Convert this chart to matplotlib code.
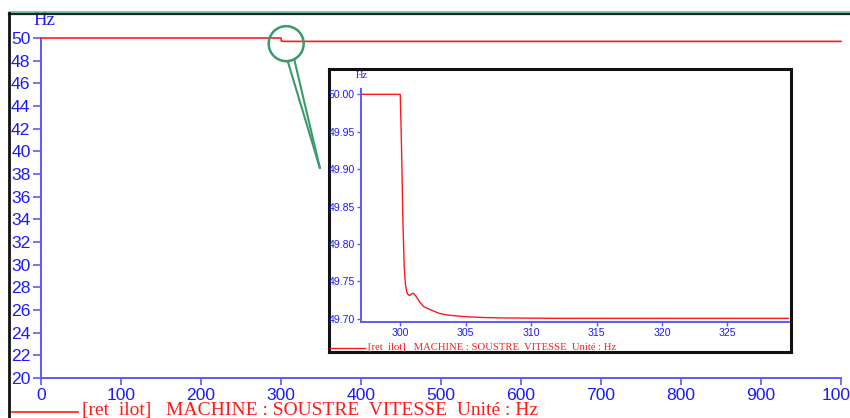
import matplotlib
matplotlib.use("Agg")
import matplotlib.pyplot as plt
from matplotlib.lines import Line2D
from matplotlib.patches import Circle
from matplotlib.ticker import FormatStrFormatter

# Machine speed (Hz) versus time (s) after islanding at t = 300 s
time_s = [0, 300.0, 300.1, 300.2, 300.3, 300.4, 300.5, 300.56, 300.7, 300.85,
          301.0, 301.2, 301.5, 301.8, 302.3, 303.0, 303.6, 304.4, 305.2,
          306.5, 308.0, 312.0, 1000]
freq_hz = [50.0, 50.0, 49.926, 49.832, 49.770, 49.745, 49.736, 49.733, 49.731,
           49.733, 49.734, 49.730, 49.722, 49.716, 49.712, 49.707, 49.705,
           49.7035, 49.7025, 49.7015, 49.701, 49.7005, 49.7005]

main_xticks = [0, 100, 200, 300, 400, 500, 600, 700, 800, 900, 1000]
main_yticks = list(range(20, 51, 2))
zoom_xticks = [300, 305, 310, 315, 320, 325]
zoom_yticks = [49.70, 49.75, 49.80, 49.85, 49.90, 49.95, 50.00]

legend_text = "[ret  ilot]   MACHINE : SOUSTRE  VITESSE  Unité : Hz"
unit_text = "Hz"

RED = "#ff1a1a"
BLUE_TXT = "#1a1aff"
BLUE_AX = "#5a5aff"
GREEN = "#3a9a6a"

W, H = 850, 418
fig = plt.figure(figsize=(W / 100, H / 100), dpi=100)
fig.patch.set_facecolor("white")


def px_rect(x0, y0, x1, y1):
    return [x0 / W, 1 - y1 / H, (x1 - x0) / W, (y1 - y0) / H]


def style_axes(ax, fs, ticklen):
    for s in ("top", "right"):
        ax.spines[s].set_visible(False)
    for s in ("left", "bottom"):
        ax.spines[s].set_color(BLUE_AX)
        ax.spines[s].set_linewidth(1.4)
    ax.tick_params(colors=BLUE_AX, labelcolor=BLUE_TXT, labelsize=fs,
                   length=ticklen, width=1.2, pad=1.5)
    for lab in ax.get_xticklabels() + ax.get_yticklabels():
        lab.set_family("Liberation Sans")


# Main axes
ax = fig.add_axes(px_rect(41, 38, 841, 378))
ax.plot(time_s, freq_hz, color=RED, lw=1.2, clip_on=False, zorder=5)
ax.set_xlim(0, 1000)
ax.set_ylim(20, 50)
ax.set_xticks(main_xticks)
ax.set_yticks(main_yticks)
style_axes(ax, 12.6, 6)
ax.tick_params(axis="x", length=5, pad=2)
ax.set_facecolor("none")
fig.text(33 / W, 1 - 20.5 / H, unit_text, color=BLUE_TXT, fontsize=13.5,
         family="Liberation Serif", va="center", ha="left")

# Overlay in pixel coordinates for frames and callout
ov = fig.add_axes([0, 0, 1, 1], zorder=10)
ov.set_xlim(0, W)
ov.set_ylim(H, 0)
ov.axis("off")
ov.patch.set_alpha(0)

# Outer frame
ov.plot([9, 850], [12.3, 12.3], color="#5fc59a", lw=1.2)
ov.plot([9, 850], [14, 14], color="#222222", lw=1.6)
ov.plot([9, 9], [13, 418], color="#111111", lw=2.0)

# Main legend
fig.add_artist(Line2D([12 / W, 78 / W], [1 - 411.5 / H] * 2, color=RED, lw=1.2))
fig.text(82 / W, 1 - 411 / H, legend_text, color=RED, fontsize=14,
         family="Liberation Serif", va="center", ha="left")

# Magnifier callout anchored on the step at t = 300 s
fig.canvas.draw()
cx, cy = ax.transData.transform((306.5, 49.5))
cy = H - cy
ov.add_patch(Circle((cx, cy), 17.5, fill=False, ec=GREEN, lw=1.8))
tip = ax.transData.transform((348.5, 38.55))
tip = (tip[0], H - tip[1])
ov.plot([cx + 1.5, tip[0]], [cy + 17.4, tip[1]], color=GREEN, lw=1.5)
ov.plot([cx + 8.0, tip[0]], [cy + 15.5, tip[1]], color=GREEN, lw=1.5)

# Inset frame
ins_bg = fig.add_axes(px_rect(329, 69, 791, 352), zorder=11)
ins_bg.set_xticks([])
ins_bg.set_yticks([])
for s in ins_bg.spines.values():
    s.set_color("#111111")
    s.set_linewidth(2.2)
ins_bg.patch.set_facecolor("white")

# Inset axes
ins = fig.add_axes(px_rect(361, 89.3, 789, 322), zorder=12)
ins.plot(time_s, freq_hz, color=RED, lw=1.0)
ins.set_xlim(297.0, 329.7)
ins.set_ylim(49.6956, 50.0067)
ins.set_xticks(zoom_xticks)
ins.set_yticks(zoom_yticks)
ins.yaxis.set_major_formatter(FormatStrFormatter("%.2f"))
style_axes(ins, 7.6, 3)
ins.tick_params(pad=1.5, width=1.0)
ins.set_facecolor("none")
fig.text(356 / W, 1 - 76 / H, unit_text, color=BLUE_TXT, fontsize=7.5,
         family="Liberation Serif", va="center", ha="left", zorder=13)
fig.add_artist(Line2D([330 / W, 365 / W], [1 - 347.5 / H] * 2, color=RED,
                      lw=1.0, zorder=13))
fig.text(368 / W, 1 - 347 / H, legend_text, color=RED, fontsize=7.7,
         family="Liberation Serif", va="center", ha="left", zorder=13)

fig.savefig("out.png", dpi=100)
